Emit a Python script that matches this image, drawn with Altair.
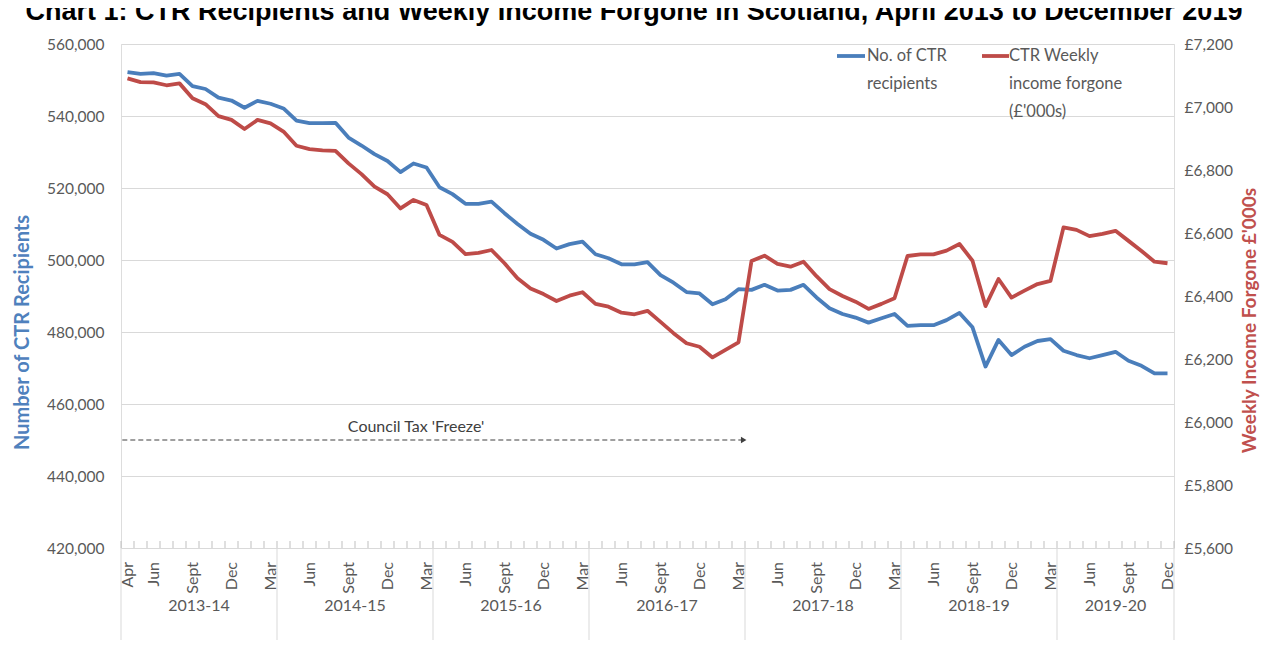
import altair as alt
import pandas as pd

# ---------------- data ----------------
# Monthly, April 2013 .. December 2019 (81 points)
recipients = [
    552200, 551700, 551900, 551200, 551700, 548300, 547500, 545100, 544300, 542300, 544200, 543400,  # 2013-14
    542100, 538700, 538000, 538000, 538100, 534000, 531800, 529400, 527500, 524400, 526800, 525700,  # 2014-15
    520200, 518300, 515600, 515600, 516200, 513000, 510000, 507300, 505600, 503200, 504400, 505100,  # 2015-16
    501600, 500500, 498800, 498800, 499400, 495800, 493700, 491100, 490700, 487700, 489100, 491900,  # 2016-17
    491700, 493100, 491500, 491700, 493100, 489600, 486600, 485000, 484000, 482600, 483800, 485000,  # 2017-18
    481700, 481900, 481900, 483300, 485300, 481300, 470400, 477800, 473600, 475900, 477500, 478000,  # 2018-19
    474800, 473600, 472700, 473600, 474500, 472000, 470600, 468500, 468500,                          # 2019-20
]
forgone = [
    7091, 7079, 7078, 7069, 7075, 7028, 7009, 6971, 6959, 6930, 6959, 6948,  # 2013-14
    6922, 6877, 6866, 6862, 6861, 6821, 6787, 6747, 6723, 6678, 6705, 6689,  # 2014-15
    6594, 6572, 6533, 6537, 6546, 6504, 6456, 6424, 6406, 6384, 6401, 6412,  # 2015-16
    6375, 6366, 6347, 6342, 6353, 6318, 6282, 6250, 6239, 6205, 6229, 6253,  # 2016-17
    6511, 6528, 6502, 6493, 6509, 6463, 6422, 6400, 6382, 6359, 6375, 6393,  # 2017-18
    6527, 6532, 6532, 6544, 6565, 6512, 6368, 6454, 6395, 6417, 6438, 6448,  # 2018-19
    6618, 6610, 6590, 6597, 6607, 6575, 6543, 6509, 6504,                    # 2019-20
]
month_labels = (
    ["Apr", "", "Jun", "", "", "Sept", "", "", "Dec", "", "", "Mar"]
    + ["", "", "Jun", "", "", "Sept", "", "", "Dec", "", "", "Mar"] * 5
    + ["", "", "Jun", "", "", "Sept", "", "", "Dec"]
)
fiscal_years = ["2013-14", "2014-15", "2015-16", "2016-17", "2017-18", "2018-19", "2019-20"]
fy_months = [12, 12, 12, 12, 12, 12, 9]

left_ticks = [420000, 440000, 460000, 480000, 500000, 520000, 540000, 560000]
right_ticks = [5600, 5800, 6000, 6200, 6400, 6600, 6800, 7000, 7200]

title_text = "Chart 1: CTR Recipients and Weekly Income Forgone in Scotland, April 2013 to December 2019"
series_names = ["No. of CTR\nrecipients", "CTR Weekly\nincome forgone\n(£'000s)"]
annotation_text = "Council Tax 'Freeze'"
annotation_level = 450000
annotation_end = 47.4

# ---------------- tables ----------------
n = len(recipients)
df = pd.DataFrame({"idx": list(range(n)), "recipients": recipients, "forgone": forgone})
lab_df = pd.DataFrame({"idx": list(range(n)), "label": month_labels})
lab_df = lab_df[lab_df["label"] != ""]
tick_df = pd.DataFrame({"b": [i - 0.5 for i in range(n + 1)]})
starts = [sum(fy_months[:k]) for k in range(len(fy_months))]
fy_df = pd.DataFrame({
    "fy": fiscal_years,
    "mid": [s + (m - 1) / 2 for s, m in zip(starts, fy_months)],
})
sep_df = pd.DataFrame({"b": [s - 0.5 for s in starts] + [n - 0.5]})
ann_df = pd.DataFrame({"x0": [-0.4], "x1": [annotation_end], "y": [annotation_level],
                       "mid": [22.2], "t": [annotation_text]})

BLUE = "#4A7EBB"
RED = "#BE4B48"
GREY = "#595959"
FONT = "Lato"

xs = alt.Scale(domain=[-0.5, n - 0.5], nice=False, zero=False)
ls = alt.Scale(domain=[420000, 560000], nice=False, zero=False)
rs = alt.Scale(domain=[5600, 7200], nice=False, zero=False)

base = alt.Chart(df)

blue = base.mark_line(color=BLUE, strokeWidth=3.8, strokeJoin="round").encode(
    x=alt.X("idx:Q", scale=xs, axis=None),
    y=alt.Y("recipients:Q", scale=ls, axis=alt.Axis(
        values=left_ticks, labelExpr="format(datum.value, ',')", grid=True,
        gridColor="#d9d9d9", gridWidth=1,
        domain=False, ticks=False, labelPadding=17, labelFont=FONT, labelFontSize=15.5,
        labelColor=GREY, title="Number of CTR Recipients", titleFont=FONT,
        titleFontSize=20, titleFontWeight="bold", titleColor="#4F81BD",
        titleAngle=270, titleX=-99, titleY=288, titleAlign="center",
        titleBaseline="middle")),
)

arrow_line = alt.Chart(ann_df).mark_rule(color="#404040", strokeDash=[5, 3], strokeWidth=1.2).encode(
    x=alt.X("x0:Q", scale=xs, axis=None), x2="x1:Q",
    y=alt.Y("y:Q", scale=ls, axis=None),
)
arrow_head = alt.Chart(ann_df).mark_point(shape="triangle-right", filled=True, color="#404040",
                                          size=40, opacity=1).encode(
    x=alt.X("x1:Q", scale=xs, axis=None),
    y=alt.Y("y:Q", scale=ls, axis=None),
)
arrow_text = alt.Chart(ann_df).mark_text(font=FONT, fontSize=16, color="#404040",
                                         baseline="bottom", dy=-5).encode(
    x=alt.X("mid:Q", scale=xs, axis=None),
    y=alt.Y("y:Q", scale=ls, axis=None),
    text="t:N",
)

red = base.mark_line(color=RED, strokeWidth=3.8, strokeJoin="round").encode(
    x=alt.X("idx:Q", scale=xs, axis=None),
    y=alt.Y("forgone:Q", scale=rs, axis=alt.Axis(
        orient="right", values=right_ticks, labelExpr="'£' + format(datum.value, ',')",
        grid=False, domain=False, ticks=False, labelPadding=10, labelFont=FONT,
        labelFontSize=15.5, labelColor=GREY, title="Weekly Income Forgone £'000s",
        titleFont=FONT, titleFontSize=19, titleFontWeight="bold", titleColor="#C0504D",
        titleAngle=270, titleX=75, titleY=276, titleAlign="center",
        titleBaseline="middle")),
)

# category axis decorations
ticks = alt.Chart(tick_df).mark_rule(color="#bfbfbf", strokeWidth=1).encode(
    x=alt.X("b:Q", scale=xs, axis=None), y=alt.value(497), y2=alt.value(504))
seps = alt.Chart(sep_df).mark_rule(color="#d9d9d9", strokeWidth=1).encode(
    x=alt.X("b:Q", scale=xs, axis=None), y=alt.value(504), y2=alt.value(596))
mlabels = alt.Chart(lab_df).mark_text(font=FONT, fontSize=16, color=GREY, angle=270,
                                      align="right", baseline="middle").encode(
    x=alt.X("idx:Q", scale=xs, axis=None), y=alt.value(518), text="label:N")
fylabels = alt.Chart(fy_df).mark_text(font=FONT, fontSize=16, color=GREY,
                                      baseline="middle").encode(
    x=alt.X("mid:Q", scale=xs, axis=None), y=alt.value(562), text="fy:N")

# legend (manual, top right)
leg_df = pd.DataFrame({"name": series_names})
leg_blue = alt.Chart(leg_df.iloc[[0]]).mark_rule(color=BLUE, strokeWidth=3.8).encode(
    x=alt.value(716), x2=alt.value(744), y=alt.value(12))
leg_red = alt.Chart(leg_df.iloc[[1]]).mark_rule(color=RED, strokeWidth=3.8).encode(
    x=alt.value(861), x2=alt.value(888), y=alt.value(12))
leg_blue_t = alt.Chart(leg_df.iloc[[0]]).mark_text(
    font=FONT, fontSize=16.5, color=GREY, align="left", baseline="middle",
    lineBreak="\n", lineHeight=28).encode(x=alt.value(746), y=alt.value(12), text="name:N")
leg_red_t = alt.Chart(leg_df.iloc[[1]]).mark_text(
    font=FONT, fontSize=16.5, color=GREY, align="left", baseline="middle",
    lineBreak="\n", lineHeight=28).encode(x=alt.value(888), y=alt.value(12), text="name:N")

title = alt.Chart(pd.DataFrame({"t": [title_text]})).mark_text(
    font="Liberation Sans", fontSize=27, fontWeight="bold", color="#000000",
    align="center", baseline="alphabetic").encode(
    x=alt.value(513), y=alt.value(-24), text="t:N")

chart = alt.layer(
    blue, red, arrow_line, arrow_head, arrow_text, ticks, seps, mlabels, fylabels,
    leg_blue, leg_red, leg_blue_t, leg_red_t, title,
).resolve_scale(y="independent").properties(
    width=1053, height=504,
    autosize=alt.AutoSizeParams(type="none"),
    padding={"left": 113, "top": 36, "right": 86, "bottom": 110},
).configure_view(stroke=None).configure(background="white")

chart.save("out.html", embed_options={"renderer": "svg", "actions": False})
